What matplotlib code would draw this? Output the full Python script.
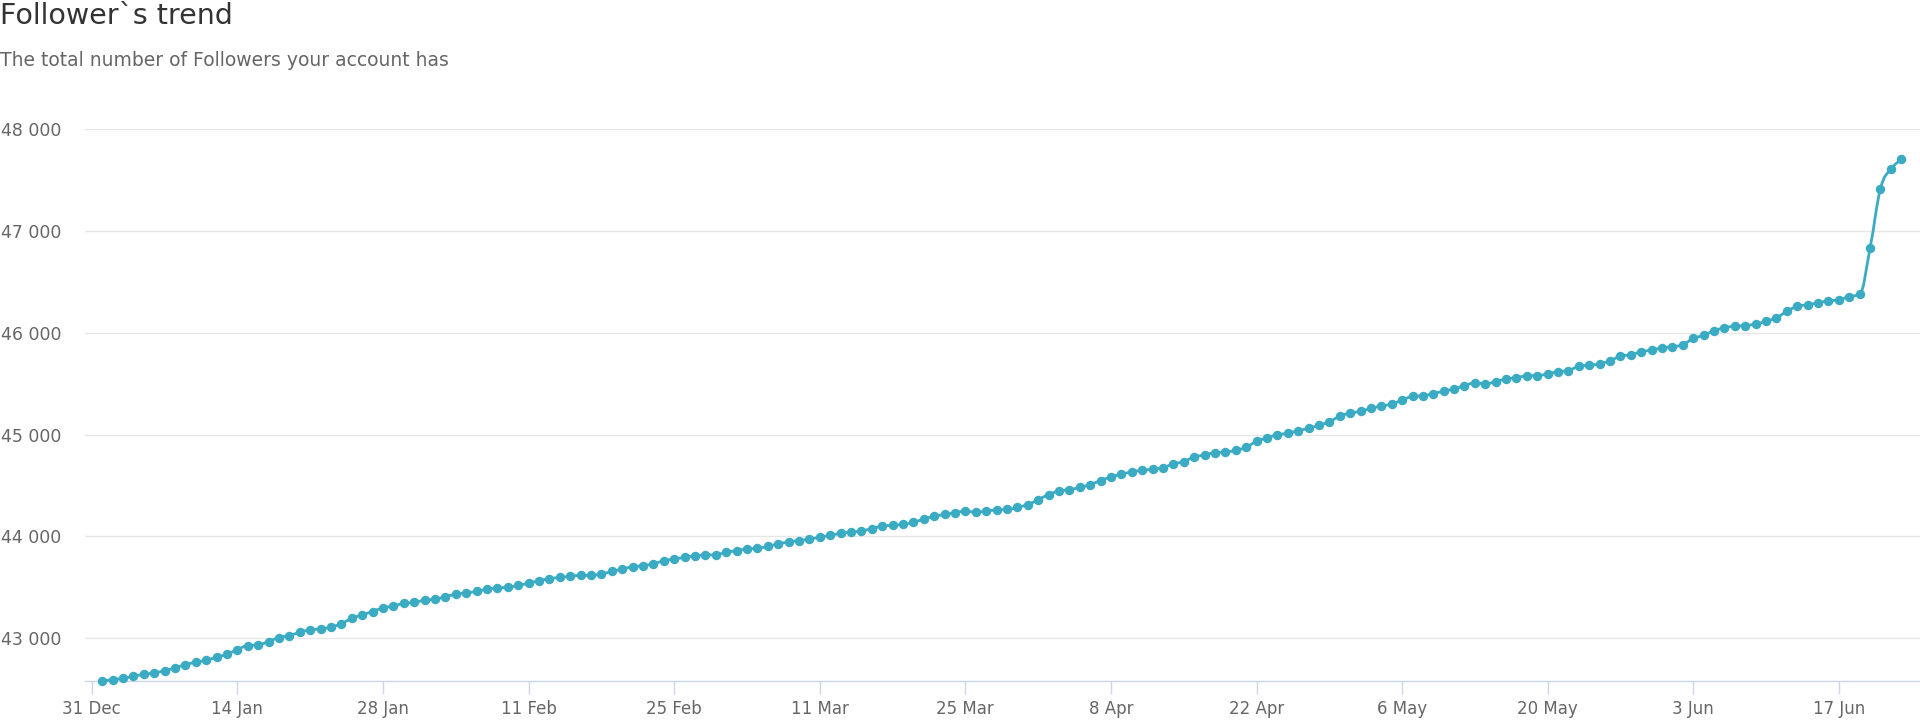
import numpy as np
import pandas as pd
from matplotlib import pyplot as plt
import matplotlib.dates as mdates
from matplotlib.path import Path
from matplotlib.patches import PathPatch

# daily follower totals, 1 Jan 2019 .. 23 Jun 2019
start_date = "2019-01-01"
jan = [42580, 42593, 42606, 42626, 42646, 42659, 42682, 42708, 42741, 42764,
       42784, 42813, 42843, 42889, 42928, 42934, 42967, 43007, 43026, 43059,
       43082, 43092, 43108, 43144, 43194, 43230, 43262, 43298, 43315, 43344,
       43351]
feb = [43374, 43384, 43407, 43433, 43446, 43459, 43482, 43492, 43502, 43518,
       43541, 43564, 43584, 43597, 43607, 43617, 43617, 43630, 43656, 43679,
       43702, 43712, 43731, 43761, 43777, 43794, 43810, 43817]
mar = [43820, 43843, 43859, 43876, 43882, 43902, 43925, 43945, 43958, 43974,
       43991, 44010, 44030, 44043, 44053, 44076, 44099, 44109, 44118, 44138,
       44170, 44196, 44215, 44232, 44248, 44238, 44248, 44261, 44264, 44284,
       44313]
apr = [44359, 44411, 44444, 44460, 44480, 44509, 44548, 44584, 44610, 44633,
       44649, 44659, 44675, 44711, 44734, 44780, 44799, 44822, 44829, 44845,
       44875, 44933, 44966, 44998, 45012, 45038, 45060, 45092, 45125, 45180]
may = [45210, 45228, 45257, 45280, 45299, 45339, 45375, 45382, 45401, 45428,
       45447, 45480, 45507, 45497, 45520, 45546, 45559, 45576, 45579, 45595,
       45618, 45628, 45671, 45681, 45694, 45724, 45770, 45783, 45813, 45829,
       45852]
jun = [45862, 45882, 45944, 45974, 46020, 46048, 46064, 46070, 46085, 46112,
       46146, 46210, 46260, 46273, 46293, 46313, 46322, 46355, 46378, 46832,
       47414, 47605, 47701]

followers = jan + feb + mar + apr + may + jun
days = pd.date_range(start_date, periods=len(followers), freq="D")

y_ticks = [43000, 44000, 45000, 46000, 47000, 48000]
x_ticks = pd.date_range("2018-12-31", "2019-06-17", freq="14D")

line_color = "#3aabc2"


def spline_path(xs, ys, smoothing=1.5):
    # smooth curve through the points, same idea as a highcharts spline
    n = len(xs)
    verts = [(xs[0], ys[0])]
    codes = [Path.MOVETO]
    right = [(xs[0], ys[0])] * n
    left = [(xs[0], ys[0])] * n
    denom = smoothing + 1
    for i in range(1, n - 1):
        x, y = xs[i], ys[i]
        lx, ly = xs[i - 1], ys[i - 1]
        nx, ny = xs[i + 1], ys[i + 1]
        lcx = (smoothing * x + lx) / denom
        lcy = (smoothing * y + ly) / denom
        rcx = (smoothing * x + nx) / denom
        rcy = (smoothing * y + ny) / denom
        corr = (rcy - lcy) * (rcx - x) / (rcx - lcx) + y - rcy
        lcy += corr
        rcy += corr
        if lcy > ly and lcy > y:
            lcy = max(ly, y)
            rcy = 2 * y - lcy
        elif lcy < ly and lcy < y:
            lcy = min(ly, y)
            rcy = 2 * y - lcy
        if rcy > ny and rcy > y:
            rcy = max(ny, y)
            lcy = 2 * y - rcy
        elif rcy < ny and rcy < y:
            rcy = min(ny, y)
            lcy = 2 * y - rcy
        left[i] = (lcx, lcy)
        right[i] = (rcx, rcy)
    left[n - 1] = (xs[n - 1], ys[n - 1])
    for i in range(1, n):
        verts += [right[i - 1], left[i], (xs[i], ys[i])]
        codes += [Path.CURVE4] * 3
    return Path(verts, codes)


fig = plt.figure(figsize=(19.2, 7.2), dpi=100)
ax = fig.add_axes([85 / 1920, 39 / 720, 1835 / 1920, 552 / 720])

xnum = mdates.date2num(days)
ax.add_patch(PathPatch(spline_path(list(xnum), followers), facecolor="none",
                       edgecolor=line_color, linewidth=2, zorder=3, clip_on=False))
ax.plot(days, followers, linestyle="none", color=line_color, marker="o",
        markersize=6.8, markeredgewidth=0, zorder=4, clip_on=False)

ax.set_ylim(followers[0], 48000)
ax.set_xlim(days[0] - pd.Timedelta(days=1.65), days[-1] + pd.Timedelta(days=1.8))

ax.set_yticks(y_ticks)
ax.set_yticklabels([f"{v:,}".replace(",", " ") for v in y_ticks])
ax.set_xticks(x_ticks)
ax.xaxis.set_major_formatter(mdates.DateFormatter("%-d %b"))

ax.grid(axis="y", color="#e6e6e6", linewidth=1)
ax.set_axisbelow(True)
for side in ["top", "right", "left"]:
    ax.spines[side].set_visible(False)
ax.spines["bottom"].set_color("#ccd6eb")
ax.spines["bottom"].set_linewidth(1)

ax.tick_params(axis="y", length=0, pad=17, labelsize=12.5, labelcolor="#666666")
ax.tick_params(axis="x", length=9, width=1, color="#ccd6eb", pad=5,
               labelsize=12, labelcolor="#666666")

fig.text(0.0, 1 - 24 / 720, "Follower`s trend", fontsize=20.5, color="#333333",
         ha="left", va="baseline")
fig.text(0.0, 1 - 66 / 720, "The total number of Followers your account has",
         fontsize=13.5, color="#666666", ha="left", va="baseline")

fig.savefig("out.png", dpi=100, facecolor="white")
